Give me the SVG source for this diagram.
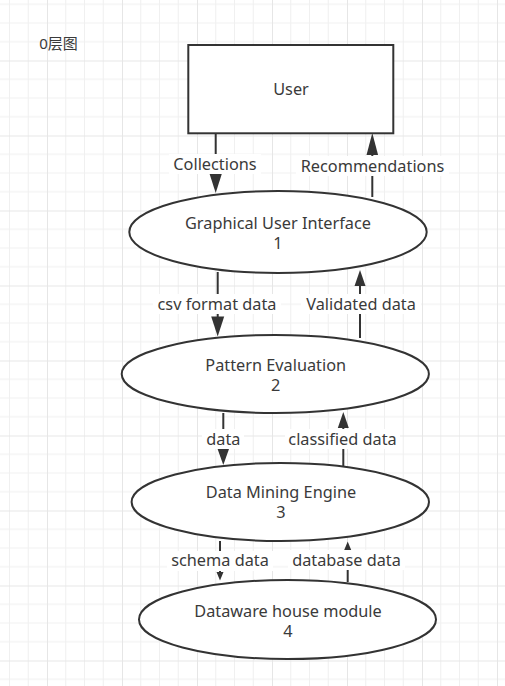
<svg xmlns="http://www.w3.org/2000/svg" width="505" height="686" viewBox="0 0 505 686">
  <defs>
    <pattern id="grid" patternUnits="userSpaceOnUse" x="47" y="60.5" width="75" height="75">
      <rect x="0" y="0" width="75" height="75" fill="#ffffff"/>
      <g stroke="#f0f0f0" stroke-width="1">
        <line x1="18.75" y1="0" x2="18.75" y2="75"/>
        <line x1="37.5" y1="0" x2="37.5" y2="75"/>
        <line x1="56.25" y1="0" x2="56.25" y2="75"/>
        <line x1="0" y1="18.75" x2="75" y2="18.75"/>
        <line x1="0" y1="37.5" x2="75" y2="37.5"/>
        <line x1="0" y1="56.25" x2="75" y2="56.25"/>
      </g>
      <g stroke="#e6e6e6" stroke-width="1">
        <line x1="0.5" y1="0" x2="0.5" y2="75"/>
        <line x1="0" y1="0.5" x2="75" y2="0.5"/>
      </g>
    </pattern>
  </defs>
  <style>
    .shape { fill: #ffffff; stroke: #333333; stroke-width: 2; }
    .txt { font-family: "Noto Sans", "Liberation Sans", "Noto Sans CJK SC", sans-serif; font-size: 16.3px; fill: #3a3a3a; text-anchor: middle; }
    .title { font-size: 15px; }
    .edge { stroke: #333333; stroke-width: 2; fill: none; }
    .head { fill: #333333; stroke: none; }
    .lblbg { fill: #ffffff; }
  </style>
  <rect x="0" y="0" width="505" height="686" fill="url(#grid)"/>

  <g id="title">
    <text class="txt title" x="58.5" y="48.5">0层图</text>
  </g>

  <g id="connectors">
    <!-- User -> GUI : Collections -->
    <line class="edge" x1="215.7" y1="133" x2="215.7" y2="176"/>
    <polygon class="head" points="209.3,173 222.1,173 215.7,193"/>
    <rect class="lblbg" x="169" y="154" width="92" height="20"/>
    <text class="txt" x="215" y="169.5">Collections</text>

    <!-- GUI -> User : Recommendations -->
    <line class="edge" x1="372.3" y1="197" x2="372.3" y2="152"/>
    <polygon class="head" points="366.5,155 378.1,155 372.3,133"/>
    <rect class="lblbg" x="296" y="156" width="153" height="20"/>
    <text class="txt" x="372.5" y="171.5">Recommendations</text>

    <!-- GUI -> Pattern : csv format data -->
    <line class="edge" x1="217.7" y1="272" x2="217.7" y2="319"/>
    <polygon class="head" points="211.2,316.5 224.2,316.5 217.7,336.5"/>
    <rect class="lblbg" x="153" y="294" width="128" height="20"/>
    <text class="txt" x="217" y="309.5">csv format data</text>

    <!-- Pattern -> GUI : Validated data -->
    <line class="edge" x1="360" y1="338" x2="360" y2="283"/>
    <polygon class="head" points="354.5,286 365.5,286 360,270"/>
    <rect class="lblbg" x="301" y="294" width="120" height="20"/>
    <text class="txt" x="361" y="309.5">Validated data</text>

    <!-- Pattern -> DME : data -->
    <line class="edge" x1="223.3" y1="413" x2="223.3" y2="451"/>
    <polygon class="head" points="217.6,449 229,449 223.3,465"/>
    <rect class="lblbg" x="202" y="429" width="42" height="20"/>
    <text class="txt" x="223.4" y="444.5">data</text>

    <!-- DME -> Pattern : classified data -->
    <line class="edge" x1="343.3" y1="466" x2="343.3" y2="426"/>
    <polygon class="head" points="337.8,428 348.8,428 343.3,412"/>
    <rect class="lblbg" x="285" y="429" width="115" height="20"/>
    <text class="txt" x="342.5" y="444.5">classified data</text>

    <!-- DME -> Dataware : schema data -->
    <line class="edge" x1="220" y1="541" x2="220" y2="573"/>
    <polygon class="head" points="216.5,572 223.5,572 220,580.5"/>
    <rect class="lblbg" x="167" y="551" width="106" height="20"/>
    <text class="txt" x="220" y="566">schema data</text>

    <!-- Dataware -> DME : database data -->
    <line class="edge" x1="347.7" y1="582" x2="347.7" y2="549"/>
    <polygon class="head" points="344.2,550 351.2,550 347.7,541.5"/>
    <rect class="lblbg" x="288" y="550" width="117" height="20"/>
    <text class="txt" x="346.5" y="565.5">database data</text>
  </g>

  <g id="user">
    <rect class="shape" x="188.3" y="45" width="205" height="88.3"/>
    <text class="txt" x="291" y="95">User</text>
  </g>

  <g id="gui">
    <ellipse class="shape" cx="278" cy="232" rx="148.7" ry="41"/>
    <text class="txt" x="278" y="228.5">Graphical User Interface</text>
    <text class="txt" x="278" y="249">1</text>
  </g>

  <g id="pattern-evaluation">
    <ellipse class="shape" cx="275.3" cy="374" rx="153.6" ry="39"/>
    <text class="txt" x="275.7" y="370.5">Pattern Evaluation</text>
    <text class="txt" x="275.7" y="391">2</text>
  </g>

  <g id="data-mining-engine">
    <ellipse class="shape" cx="280.3" cy="502" rx="148.7" ry="39"/>
    <text class="txt" x="281" y="497.5">Data Mining Engine</text>
    <text class="txt" x="281" y="518">3</text>
  </g>

  <g id="dataware-house">
    <ellipse class="shape" cx="287.5" cy="619.5" rx="148.5" ry="39.5"/>
    <text class="txt" x="288" y="616.5">Dataware house module</text>
    <text class="txt" x="288" y="637">4</text>
  </g>
</svg>
